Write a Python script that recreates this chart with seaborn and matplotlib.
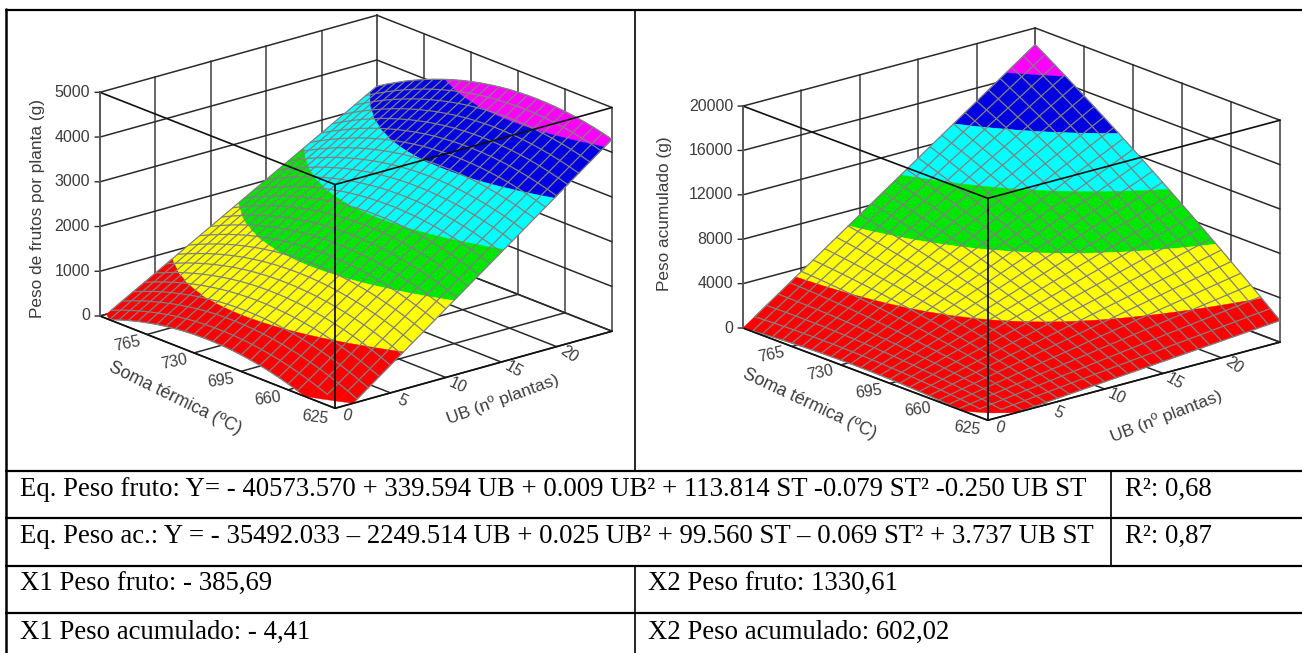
import numpy as np
import matplotlib
matplotlib.use("Agg")
import matplotlib.pyplot as plt
import seaborn as sns
from mpl_toolkits.mplot3d import proj3d
from mpl_toolkits.mplot3d.art3d import Poly3DCollection

# ---------- data ----------
ub_ticks = [0, 5, 10, 15, 20, 25]
st_ticks = [625, 660, 695, 730, 765, 800]
z1_ticks = [0, 1000, 2000, 3000, 4000, 5000]
z2_ticks = [0, 4000, 8000, 12000, 16000, 20000]
ub_nodes = [0, 1, 2, 3, 4, 5, 6, 7, 8, 9, 10, 11, 12, 13, 14, 15, 16, 17, 18, 19, 20, 21, 22, 23, 24, 25]
st_nodes = [625, 632, 639, 646, 653, 660, 667, 674, 681, 688, 695, 702, 709, 716, 723, 730, 737, 744, 751, 758, 765, 772, 779, 786, 793, 800]
peso_fruto = [
    [-299,-116,67,251,434,618,801,985,1168,1352,1535,1719,1902,2086,2269,2453,2637,2820,3004,3187,3371,3555,3739,3922,4106,4290],
    [-198,-16,166,347,529,711,892,1074,1256,1437,1619,1801,1983,2164,2346,2528,2710,2891,3073,3255,3438,3620,3802,3984,4166,4348],
    [-104,76,256,436,616,796,976,1156,1335,1515,1695,1875,2055,2235,2415,2596,2776,2956,3136,3316,3496,3676,3857,4037,4217,4397],
    [-18,160,339,517,695,873,1052,1230,1408,1586,1764,1942,2120,2299,2477,2656,2834,3012,3190,3369,3547,3726,3904,4083,4261,4440],
    [61,237,413,590,766,943,1119,1295,1472,1648,1825,2001,2178,2354,2531,2708,2884,3061,3237,3414,3591,3768,3944,4121,4298,4475],
    [131,306,480,655,830,1004,1179,1354,1529,1703,1878,2053,2228,2403,2578,2752,2927,3102,3277,3452,3627,3802,3977,4152,4327,4502],
    [194,367,540,713,886,1059,1232,1404,1577,1750,1923,2096,2269,2442,2615,2789,2962,3135,3308,3481,3654,3828,4001,4174,4347,4521],
    [249,420,591,762,934,1105,1276,1447,1618,1790,1961,2132,2303,2475,2646,2817,2989,3160,3332,3503,3675,3846,4018,4189,4361,4532],
    [297,466,635,805,974,1144,1313,1482,1652,1821,1991,2160,2330,2499,2669,2839,3008,3178,3348,3517,3687,3856,4026,4196,4366,4536],
    [336,504,671,839,1007,1174,1342,1510,1677,1845,2013,2181,2349,2517,2684,2852,3020,3188,3356,3524,3692,3860,4028,4196,4364,4532],
    [368,534,700,866,1032,1197,1363,1529,1695,1861,2027,2194,2360,2526,2692,2858,3024,3190,3356,3522,3688,3855,4021,4187,4353,4520],
    [392,557,721,885,1049,1213,1377,1541,1706,1870,2034,2198,2363,2527,2692,2856,3020,3185,3349,3514,3678,3843,4007,4172,4336,4501],
    [409,571,734,896,1058,1221,1383,1545,1708,1871,2033,2195,2358,2520,2683,2846,3008,3171,3333,3496,3659,3822,3984,4147,4310,4473],
    [418,578,739,899,1060,1221,1381,1542,1703,1863,2024,2184,2345,2507,2668,2828,2989,3150,3311,3472,3633,3793,3954,4115,4276,4437],
    [418,577,736,895,1054,1213,1372,1530,1689,1848,2007,2166,2326,2485,2644,2803,2962,3122,3281,3440,3599,3758,3917,4076,4236,4395],
    [412,569,726,883,1040,1198,1355,1512,1669,1826,1984,2141,2298,2455,2613,2770,2927,3084,3242,3399,3557,3714,3872,4029,4187,4345],
    [397,552,708,863,1019,1174,1330,1485,1640,1796,1951,2107,2262,2418,2574,2729,2885,3040,3196,3352,3507,3663,3819,3975,4130,4286],
    [375,528,682,836,989,1143,1297,1450,1604,1758,1912,2065,2219,2373,2527,2681,2835,2988,3142,3296,3450,3604,3758,3912,4066,4220],
    [345,497,648,800,952,1104,1256,1408,1560,1712,1864,2016,2168,2320,2472,2624,2776,2929,3081,3233,3385,3537,3690,3842,3994,4146],
    [307,457,607,757,907,1058,1208,1358,1508,1658,1809,1959,2109,2259,2410,2560,2710,2861,3011,3162,3312,3463,3613,3764,3914,4065],
    [261,410,558,706,855,1003,1152,1300,1449,1597,1746,1894,2043,2191,2340,2489,2637,2786,2935,3084,3232,3381,3530,3678,3827,3976],
    [208,355,501,648,794,941,1088,1235,1381,1528,1675,1822,1969,2116,2262,2409,2556,2703,2850,2997,3144,3291,3438,3585,3731,3878],
    [147,292,437,582,727,872,1017,1161,1306,1451,1596,1741,1886,2031,2176,2321,2467,2612,2757,2902,3047,3193,3338,3483,3628,3774],
    [78,222,365,508,651,794,937,1080,1224,1367,1510,1653,1797,1940,2083,2226,2370,2513,2657,2800,2944,3087,3231,3374,3518,3661],
    [2,143,285,426,567,709,850,992,1133,1275,1416,1558,1699,1841,1983,2124,2266,2408,2549,2691,2832,2974,3116,3257,3399,3541],
    [-82,57,197,337,476,616,756,895,1035,1175,1315,1454,1594,1734,1874,2014,2153,2293,2433,2573,2713,2853,2993,3133,3273,3413],
]
peso_acum = [
    [-220,-134,-48,38,124,211,297,384,470,557,643,730,817,903,990,1077,1164,1251,1338,1425,1512,1600,1687,1774,1861,1948],
    [-130,-18,94,207,319,432,544,657,769,882,995,1108,1220,1333,1446,1559,1672,1785,1899,2012,2125,2238,2352,2465,2578,2692],
    [-47,91,229,368,506,645,784,922,1061,1200,1339,1478,1617,1756,1896,2035,2174,2314,2452,2592,2731,2871,3010,3150,3289,3429],
    [29,194,358,523,688,852,1017,1182,1347,1512,1677,1842,2007,2173,2338,2503,2669,2834,3000,3166,3331,3497,3662,3828,3993,4159],
    [98,289,480,671,862,1053,1244,1435,1626,1817,2008,2199,2391,2582,2773,2965,3156,3348,3540,3731,3923,4115,4307,4499,4690,4883],
    [161,378,595,812,1029,1246,1463,1680,1898,2115,2333,2550,2768,2985,3203,3421,3638,3856,4074,4291,4509,4727,4945,5163,5381,5599],
    [217,460,703,947,1190,1433,1676,1920,2164,2407,2650,2894,3138,3381,3625,3869,4112,4356,4600,4844,5088,5332,5576,5820,6065,6309],
    [266,536,805,1074,1343,1613,1883,2152,2422,2692,2961,3231,3501,3770,4040,4310,4581,4851,5120,5391,5661,5931,6201,6471,6741,7012],
    [309,604,900,1195,1490,1786,2082,2378,2673,2969,3265,3561,3857,4153,4449,4745,5041,5337,5634,5930,6226,6522,6819,7115,7412,7709],
    [345,666,988,1309,1631,1953,2274,2596,2918,3240,3562,3884,4207,4529,4851,5173,5495,5818,6140,6463,6785,7108,7430,7753,8076,8399],
    [373,721,1069,1416,1764,2112,2460,2809,3157,3505,3853,4201,4549,4898,5246,5594,5943,6291,6640,6988,7337,7686,8035,8384,8732,9081],
    [396,769,1143,1517,1891,2265,2639,3014,3388,3762,4137,4511,4886,5260,5634,6009,6384,6758,7133,7508,7883,8258,8632,9007,9382,9757],
    [411,811,1211,1611,2011,2412,2812,3212,3613,4013,4414,4814,5215,5615,6016,6417,6818,7218,7619,8020,8421,8822,9223,9625,10026,10427],
    [420,846,1272,1699,2125,2551,2978,3404,3831,4257,4684,5111,5538,5964,6391,6818,7245,7672,8099,8527,8954,9381,9808,10235,10662,11090],
    [422,874,1326,1779,2231,2684,3136,3589,4041,4494,4947,5400,5853,6306,6759,7212,7665,8118,8571,9024,9478,9931,10385,10838,11292,11746],
    [417,895,1374,1852,2331,2810,3288,3767,4246,4725,5204,5683,6162,6641,7120,7600,8079,8558,9038,9517,9997,10476,10956,11435,11915,12395],
    [405,910,1414,1919,2424,2929,3434,3939,4444,4949,5454,5959,6465,6970,7475,7981,8486,8991,9497,10003,10508,11014,11520,12026,12531,13037],
    [387,917,1448,1979,2510,3041,3572,4103,4635,5166,5697,6228,6760,7291,7823,8354,8886,9417,9949,10481,11013,11545,12077,12609,13140,13673],
    [361,918,1475,2033,2590,3147,3704,4262,4819,5376,5934,6491,7049,7606,8164,8722,9279,9837,10395,10953,11511,12069,12627,13185,13743,14301],
    [330,913,1496,2079,2662,3245,3829,4413,4996,5580,6163,6747,7331,7914,8498,9082,9666,10250,10834,11418,12002,12586,13170,13755,14339,14923],
    [291,900,1510,2119,2728,3338,3947,4557,5167,5776,6386,6995,7605,8215,8825,9435,10045,10655,11265,11876,12486,13096,13706,14317,14927,15539],
    [245,881,1516,2152,2787,3423,4059,4694,5330,5966,6602,7238,7875,8511,9147,9783,10419,11055,11691,12328,12965,13601,14238,14874,15511,16147],
    [193,855,1516,2178,2840,3502,4164,4826,5488,6149,6812,7474,8136,8798,9460,10123,10785,11447,12110,12773,13435,14098,14761,15423,16086,16749],
    [134,822,1510,2198,2886,3574,4262,4950,5638,6326,7014,7702,8391,9079,9768,10456,11145,11833,12522,13210,13899,14588,15277,15966,16654,17344],
    [69,782,1496,2210,2924,3638,4353,5067,5781,6495,7210,7924,8639,9354,10068,10783,11497,12212,12927,13642,14357,15072,15787,16502,17217,17932],
    [-4,736,1476,2216,2957,3697,4437,5178,5918,6659,7399,8140,8881,9622,10362,11103,11844,12584,13325,14066,14808,15549,16290,17031,17772,18513],
]
band_colors = sns.color_palette(["#ff0000", "#ffff00", "#00e600", "#00ffff", "#0000e0", "#ff00ff"])

W, H = 1302, 653
sns.set_theme(style="white")
plt.rcParams["font.family"] = ["Liberation Sans"]

fig = plt.figure(figsize=(W / 100, H / 100), dpi=100, facecolor="white")
DARK, GREY, TXT = "#2a2a2a", "#5a5a5a", "#3c3c3c"


def clip_poly(pts, lo, hi):
    for bound, keep_low in ((lo, False), (hi, True)):
        out = []
        n = len(pts)
        for i in range(n):
            a, b = pts[i], pts[(i + 1) % n]
            ina = a[2] <= bound if keep_low else a[2] >= bound
            inb = b[2] <= bound if keep_low else b[2] >= bound
            if ina:
                out.append(a)
            if ina != inb:
                t = (bound - a[2]) / (b[2] - a[2])
                out.append(tuple(a[k] + t * (b[k] - a[k]) for k in range(3)))
        pts = out
        if not pts:
            return []
    return pts


def panel(Z, zticks, aspect, elev, L_px, R_px, ylabel, ylab_xy, st_off, ub_off, st_rot, ub_rot):
    ax = fig.add_axes([0, 0, 0.5, 0.5], projection="3d", computed_zorder=False)
    ax.set_proj_type("ortho")
    ax.view_init(elev=elev, azim=-130.1)
    ax.set_box_aspect(aspect)
    u0, u1, s0, s1, z0, z1 = ub_ticks[0], ub_ticks[-1], st_ticks[0], st_ticks[-1], zticks[0], zticks[-1]
    ax.set_xlim(u0, u1, view_margin=0)
    ax.set_ylim(s0, s1, view_margin=0)
    ax.set_zlim(z0, z1, view_margin=0)
    ax.set_axis_off()

    def p2(u, s, z):
        x, y, _ = proj3d.proj_transform(u, s, z, ax.get_proj())
        return x, y

    def disp(u, s, z):
        return ax.transData.transform(p2(u, s, z))

    # fit the square axes so that the box corners land on the target pixels
    S = 600.0
    ax.set_position([0.1, 0.1, S / W, S / H])
    ax.apply_aspect()
    span = disp(u1, s0, z0)[0] - disp(u0, s1, z0)[0]
    S *= (R_px[0] - L_px[0]) / span
    ax.set_position([0.1, 0.1, S / W, S / H])
    ax.apply_aspect()
    d = disp(u0, s1, z0)
    dx, dy = L_px[0] - d[0], (H - L_px[1]) - d[1]
    ax.set_position([0.1 + dx / W, 0.1 + dy / H, S / W, S / H])
    ax.apply_aspect()

    def line(a, b, c="#404040", lw=1.2, zo=1):
        ax.plot([a[0], b[0]], [a[1], b[1]], [a[2], b[2]], color=c, lw=lw, zorder=zo, clip_on=False)

    # back walls and floor
    for u in ub_ticks:
        line((u, s1, z0), (u, s1, z1), GREY, 1.3)
        line((u, s0, z0), (u, s1, z0), DARK, 1.1)
    for s in st_ticks:
        line((u1, s, z0), (u1, s, z1), GREY, 1.3)
        line((u0, s, z0), (u1, s, z0), DARK, 1.1)
    for z in zticks:
        line((u0, s1, z), (u1, s1, z), DARK, 1.1)
        line((u1, s0, z), (u1, s1, z), DARK, 1.1)

    # surface: each facet of the read grid is cut at the band limits
    U, T, A = np.array(ub_nodes, float), np.array(st_nodes, float), np.array(Z, float)
    levels = np.linspace(z0, z1, len(band_colors) + 1)
    polys, cols = [], []
    for i in range(len(T) - 1):
        for j in range(len(U) - 1):
            q = [(U[j], T[i], A[i, j]), (U[j + 1], T[i], A[i, j + 1]),
                 (U[j + 1], T[i + 1], A[i + 1, j + 1]), (U[j], T[i + 1], A[i + 1, j])]
            for b, col in enumerate(band_colors):
                part = clip_poly(q, levels[b], levels[b + 1])
                if len(part) >= 3:
                    polys.append(part)
                    cols.append(col)
    pc = Poly3DCollection(polys, facecolors=cols, edgecolors=cols, linewidths=0.3, zorder=2)
    pc.set_clip_on(False)
    ax.add_collection3d(pc, autolim=False)
    M = np.where(A < z0, np.nan, A)
    for i in range(len(T)):
        ax.plot(U, np.full_like(U, T[i]), M[i], color="#808080", lw=0.9, zorder=3, clip_on=False)
    for j in range(len(U)):
        ax.plot(np.full_like(T, U[j]), T, M[:, j], color="#808080", lw=0.9, zorder=3, clip_on=False)

    # front edges of the box
    line((u0, s0, z0), (u0, s0, z1), "#111111", 1.3, 4)
    line((u0, s0, z1), (u0, s1, z1), "#111111", 1.2, 4)
    line((u0, s0, z1), (u1, s0, z1), "#111111", 1.2, 4)
    line((u0, s0, z0), (u0, s1, z0), "#111111", 1.2, 4)
    line((u0, s0, z0), (u1, s0, z0), "#111111", 1.2, 4)
    line((u0, s1, z0), (u0, s1, z1), GREY, 1.3, 4)

    def lab(xy, txt, off, **kw):
        ax.annotate(txt, xy=xy, xytext=off, textcoords="offset pixels", annotation_clip=False,
                    ha=kw.pop("ha", "center"), va="center", **kw)

    for z in zticks:
        xy = p2(u0, s1, z)
        ax.annotate("", xy=xy, xytext=(-5, 0), textcoords="offset pixels", annotation_clip=False,
                    arrowprops=dict(arrowstyle="-", color=DARK, lw=1, shrinkA=0, shrinkB=0))
        lab(xy, f"{z}", (-10, 0), ha="right", fontsize=11.5, color=TXT)
    for s, r in zip(st_ticks[:-1], st_rot):
        lab(p2(u0, s, z0), f"{s}", st_off, rotation=r, fontsize=11.5, color=TXT)
    for u, r in zip(ub_ticks[:-1], ub_rot):
        lab(p2(u, s0, z0), f"{u}", ub_off, rotation=r, fontsize=11.5, color=TXT)
    lab(p2(u0, (s0 + s1) / 2, z0), "Soma térmica (ºC)", ylab_xy[0], rotation=ylab_xy[1],
        rotation_mode="anchor", fontsize=12.8, color=TXT)
    lab(p2((u0 + u1) / 2, s0, z0), "UB (nº plantas)", ylab_xy[2], rotation=ylab_xy[3],
        rotation_mode="anchor", fontsize=12.6, color=TXT)
    fig.text(ylab_xy[4][0] / W, 1 - ylab_xy[4][1] / H, ylabel, rotation=90, ha="center", va="center",
             fontsize=12.4, color=TXT)


panel(peso_fruto, z1_ticks, (362, 365, 237), 19.3, (100, 316), (612, 332),
      "Peso de frutos por planta (g)", [(-42, -36), -26, (29, -30), 20, (38, 208)],
      (-20, -9), (12, -8), [-8, 8, 8, 12, 12], [-15, -25, -25, -30, -35])
panel(peso_acum, z2_ticks, (382, 380, 234), 18.5, (743, 328), (1280, 343),
      "Peso acumulado (g)", [(-56, -30), -25, (33, -35), 21, (665, 214)],
      (-21, -8), (12, -8), [-8, 8, 8, 12, 12], [-15, -25, -25, -30, -35])

# ---------- table ----------
def hline(y, x0=6, x1=1302, lw=1.6):
    fig.add_artist(plt.Line2D([x0 / W, x1 / W], [1 - y / H, 1 - y / H], color="black", lw=lw))

def vline(x, y0, y1, lw=1.2):
    fig.add_artist(plt.Line2D([x / W, x / W], [1 - y0 / H, 1 - y1 / H], color="black", lw=lw))

for y in (10, 471, 518, 566, 613):
    hline(y)
vline(6, 9, 653, 1.8)
vline(635, 10, 471)
vline(1111, 471, 566)
vline(635, 566, 653)

table_texts = [
    (20, 496, "Eq. Peso fruto: Y= - 40573.570 + 339.594 UB + 0.009 UB² + 113.814 ST -0.079 ST² -0.250 UB ST"),
    (20, 543, "Eq. Peso ac.: Y = - 35492.033 – 2249.514 UB + 0.025 UB² + 99.560 ST – 0.069 ST² + 3.737 UB ST"),
    (1125, 496, "R²: 0,68"),
    (1125, 543, "R²: 0,87"),
    (20, 591, "X1 Peso fruto: - 385,69"),
    (648, 591, "X2 Peso fruto: 1330,61"),
    (20, 639, "X1 Peso acumulado: - 4,41"),
    (648, 639, "X2 Peso acumulado: 602,02"),
]
for x, y, t in table_texts:
    fig.text(x / W, 1 - y / H, t, family="Liberation Serif", fontsize=19.3, color="black", ha="left", va="baseline")

fig.savefig("out.png", dpi=100)
